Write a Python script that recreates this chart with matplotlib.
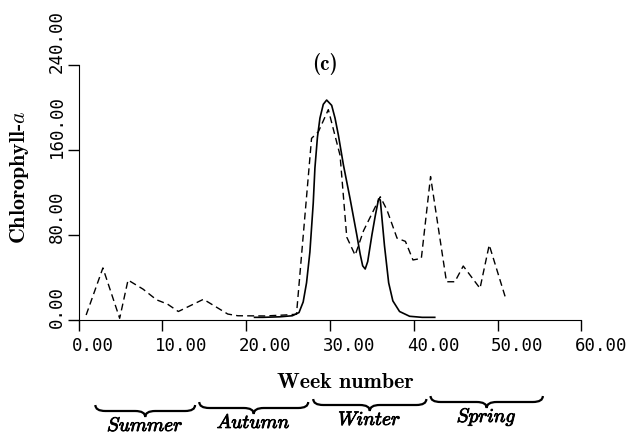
import matplotlib
matplotlib.use("Agg")
import matplotlib.pyplot as plt
import matplotlib.patheffects as pe
from matplotlib.path import Path
from matplotlib.patches import PathPatch
from matplotlib.transforms import blended_transform_factory, offset_copy

plt.rcParams["mathtext.fontset"] = "cm"

# observed chlorophyll-a (dashed)
obs_week = [0.9, 2.9, 4.9, 5.9, 7.7, 9.3, 10.6, 11.9, 14.9, 17.8, 19.0, 22.2,
            24.6, 26.0, 27.8, 28.6, 29.8, 31.2, 32.0, 33.0, 34.0, 36.0, 36.8,
            38.0, 39.0, 39.9, 40.9, 42.0, 43.9, 44.9, 45.9, 47.9, 49.0, 50.9, 51.3]
obs_chl = [4.7, 49, 1.6, 37.6, 29, 19, 15, 8, 19.5, 5.6, 4.0, 3.8,
           4.7, 5.4, 171, 177, 198, 155, 78, 61, 84, 116, 103.5,
           77, 74, 56.5, 58, 135, 36, 36, 50.8, 29.8, 70.6, 22, 22.6]

# model chlorophyll-a (solid)
model_week = [21.0, 22.0, 24.0, 25.5, 26.3, 26.8, 27.2, 27.6, 28.0, 28.2, 28.5,
              28.8, 29.2, 29.6, 30.2, 30.6, 31.0, 31.6, 32.0, 32.4, 32.8, 33.2,
              33.6, 33.9, 34.2, 34.5, 35.0, 35.4, 35.8, 36.0, 36.5, 37.0, 37.5,
              38.3, 39.5, 41.0, 42.5]
model_chl = [2.5, 2.5, 3, 4, 7, 17, 35, 64, 110, 143, 172,
             190, 203, 207, 202, 190, 174, 146, 130, 114, 97, 80,
             62, 51, 48, 55, 80, 98, 114, 113, 70, 35, 18,
             8, 3.5, 2.5, 2.5]

x_ticks = [0, 10, 20, 30, 40, 50, 60]
y_ticks = [0, 80, 160, 240]

seasons = ["Summer", "Autumn", "Winter", "Spring"]
season_start = [2.0, 14.4, 28.0, 42.0]
season_end = [13.9, 27.4, 41.5, 55.4]

W, H = 627, 436
fig = plt.figure(figsize=(W / 100, H / 100), dpi=100)
ax = fig.add_axes([78.6 / W, 1 - 320 / H, (581.4 - 78.6) / W, 255 / H])

ax.plot(model_week, model_chl, color="black", lw=1.2)
ax.plot(obs_week, obs_chl, color="black", lw=1.0, ls=(0, (5, 3)))

ax.set_xlim(0, 60)
ax.set_ylim(0, 240)
for s in ("top", "right"):
    ax.spines[s].set_visible(False)
ax.set_xticks(x_ticks)
ax.set_yticks(y_ticks)
ax.tick_params(direction="out", length=8, width=1, labelbottom=False, labelleft=False)

# tick labels drawn by hand: first digit sits under the tick
tick_font = dict(family="DejaVu Sans Mono", size=12.5)
xt = offset_copy(ax.get_xaxis_transform(), fig=fig, x=-7, y=-17, units="dots")
for t in x_ticks:
    ax.text(t, 0, f"{t:.2f}", transform=xt, ha="left", va="top", **tick_font)
yt = offset_copy(ax.get_yaxis_transform(), fig=fig, x=-22, y=-8, units="dots")
for t in y_ticks:
    ax.text(0, t, f"{t:.2f}", transform=yt, rotation=90, ha="center", va="bottom",
            **tick_font)

fig.text(20 / W, 1 - 177 / H, "Chlorophyll-$\\mathit{a}$", rotation=90,
         ha="center", va="center", family="cmb10", size=15.8)
fig.text(345.5 / W, 1 - 388 / H, "Week number", ha="center", va="baseline",
         family="cmb10", size=15.8)
fig.text(325 / W, 1 - 64 / H, "(c)", ha="center", va="center",
         family="cmb10", size=15)

# season braces
trans = blended_transform_factory(ax.transData, fig.transFigure)
tilt = [0, -3, -6, -9]


def fy(py):
    return 1 - py / H


def brace(x0, x1, top, tip):
    xm = (x0 + x1) / 2
    mid = (top + tip) / 2
    q = 1.2
    verts = [(x0, top), (x0, mid), (x0 + q, mid), (xm - q, mid), (xm, mid),
             (xm, tip), (xm, mid), (xm + q, mid), (x1 - q, mid), (x1, mid), (x1, top)]
    codes = [Path.MOVETO, Path.CURVE3, Path.CURVE3, Path.LINETO, Path.CURVE3,
             Path.CURVE3, Path.CURVE3, Path.CURVE3, Path.LINETO, Path.CURVE3, Path.CURVE3]
    return Path(verts, codes)


for name, a, b, dy in zip(seasons, season_start, season_end, tilt):
    p = PathPatch(brace(a, b, fy(405 + dy), fy(417 + dy)), transform=trans,
                  fill=False, lw=1.6, color="black", clip_on=False)
    ax.add_patch(p)
    ax.text((a + b) / 2, fy(431 + dy), f"$\\mathit{{{name}}}$", transform=trans,
            ha="center", va="baseline", size=14, clip_on=False,
            path_effects=[pe.withStroke(linewidth=0.6, foreground="black")])

fig.savefig("out.png", dpi=100)
